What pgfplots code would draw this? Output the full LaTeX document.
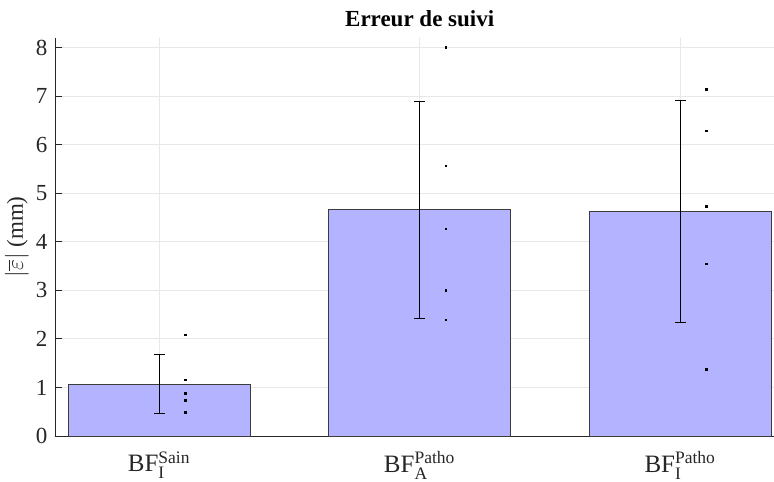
\documentclass[border=0pt,11pt]{standalone}
\usepackage{fontspec}
\setmainfont{Liberation Serif}
\usepackage{amsmath}
\usepackage{pgfplots}
\usepackage{pgfplotstable}
\pgfplotsset{compat=1.18}
\definecolor{barfill}{RGB}{179,179,255}
\definecolor{axgray}{RGB}{38,38,38}

\pgfplotstableread{
x mean err
1 1.07 0.61
2 4.66 2.24
3 4.62 2.29
}\means

\pgfplotstableread{
x y
1.1 2.08
1.1 1.16
1.1 0.88
1.1 0.73
1.1 0.49
2.1 8.01
2.1 5.57
2.1 4.27
2.1 3.00
2.1 2.39
3.1 7.14
3.1 6.29
3.1 4.73
3.1 3.55
3.1 1.37
}\points

\begin{document}
\begin{tikzpicture}
  \begin{axis}[name=ax,
    /pgf/number format/assume math mode=true,
    width=359.5pt, height=199pt, scale only axis,
    xmin=0.6, xmax=3.36, ymin=0, ymax=8.2,
    axis lines*=left, axis line style={axgray, line width=0.5pt},
    xtick={1,2,3},
    xticklabels={BF$_{\text{I}}^{\text{Sain}}$, BF$_{\text{A}}^{\text{Patho}}$, BF$_{\text{I}}^{\text{Patho}}$},
    ytick={0,1,...,8},
    tick align=inside, major tick length=3.5pt,
    x tick style={draw=none}, y tick style={axgray, line width=0.5pt},
    grid=major, grid style={gray!18, line width=0.5pt},
    yticklabel style={font=\fontsize{11.5}{13}\selectfont, text=axgray},
    xticklabel style={font=\fontsize{12.5}{14}\selectfont, text=axgray, yshift=-4pt},
    ylabel={$|\overline{\varepsilon}|$ (mm)},
    ylabel shift=-4pt,
    ylabel style={font=\fontsize{11.5}{13}\selectfont, text=axgray},
    title={\textbf{Erreur de suivi}},
    title style={font=\fontsize{11.5}{13}\selectfont, at={(axis cs:2,8.2)}, anchor=south, yshift=-4pt},
  ]
    \addplot[ybar, bar width=0.7, fill=barfill, draw=axgray!90, line width=0.5pt,
      error bars/.cd, y dir=both, y explicit,
      error bar style={black, line width=0.5pt},
      error mark options={rotate=90, mark size=2.7pt, line width=0.5pt}]
      table[x=x, y=mean, y error=err] {\means};
    \addplot[only marks, mark=square*, mark size=0.35pt, black] table[x=x, y=y] {\points};
  \end{axis}
  \pgfresetboundingbox
  \path ([shift={(-27.5pt,-22.5pt)}]ax.south west) rectangle ([shift={(0pt,19pt)}]ax.north east);
\end{tikzpicture}
\end{document}
